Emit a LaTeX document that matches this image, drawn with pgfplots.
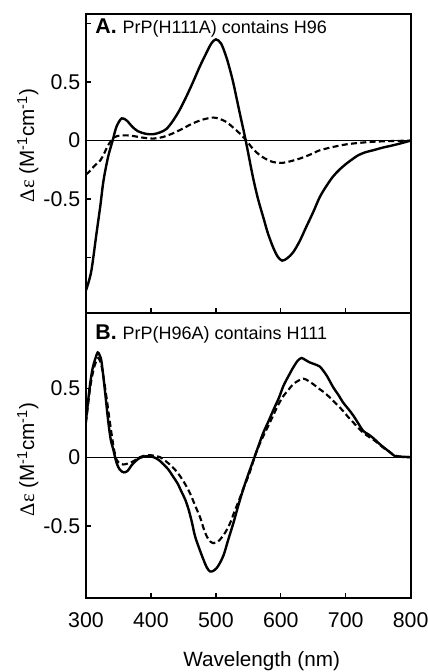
\documentclass[border=0pt]{standalone}
\usepackage{fontspec}
\setmainfont{Liberation Sans}
\newfontfamily\symfont{Liberation Serif}
\usepackage{pgfplots}
\pgfplotsset{compat=1.18}
\pgfplotsset{
  cdstyle/.style={
    scale only axis, width=243.5pt,
    xmin=300, xmax=800,
    axis line style={line width=1.4pt},
    tick style={line width=1pt, black},
    major tick length=4pt,
    tick pos=left,
    tick align=inside,
    /pgf/number format/assume math mode=true,
    ticklabel style={font=\fontsize{16}{19}\selectfont},
    yticklabel style={xshift=-0.8pt},
    xticklabel style={yshift=-7.5pt},
    every axis y label/.style={rotate=90, anchor=center, font=\fontsize{15.5}{18}\selectfont},
    clip=true,
  },
  solidcurve/.style={black, line width=1.8pt, smooth, tension=0.5},
  dashcurve/.style={black, line width=1.6pt, smooth, tension=0.5, dash pattern=on 4.5pt off 2.5pt},
}
\begin{document}
\begin{tikzpicture}
\useasboundingbox (0,0) rectangle (321pt,504pt);
% ---------------- Panel A ----------------
\begin{axis}[cdstyle,
  at={(64.5pt,269.2pt)}, anchor=south west, height=224.3pt,
  ymin=-1.474, ymax=1.082,
  xtick={300,400,500,600,700,800}, xticklabels={},
  ytick={-1,-0.5,0,0.5,1}, yticklabels={,-0.5,0,0.5,},
  ylabel={{\symfont Δε} (M\textsuperscript{-1}cm\textsuperscript{-1})},
  every axis y label/.append style={at={(rel axis cs:-0.179,0.56)}},
]
\addplot[black, line width=0.8pt] coordinates {(300,0) (800,0)};
\addplot[solidcurve] coordinates {
(300,-1.28) (308,-1.12) (316,-0.80) (322,-0.56) (327,-0.34) (334,-0.14) (341,0.0)
(347,0.12) (355,0.19) (363,0.17) (371,0.12) (380,0.08) (392,0.058) (403,0.054)
(414,0.07) (424,0.10) (434,0.17) (444,0.26) (454,0.37) (464,0.49) (475,0.63)
(485,0.745) (493,0.83) (500,0.865) (508,0.83) (516,0.716) (522,0.60) (527,0.49)
(532,0.36) (537,0.23) (546,0.0) (557,-0.31) (565,-0.50) (573,-0.655) (580,-0.79)
(588,-0.91) (595,-0.99) (602,-1.026) (610,-1.005) (619,-0.955) (629,-0.86)
(639,-0.74) (650,-0.61) (660,-0.483) (670,-0.39) (680,-0.31) (690,-0.25)
(701,-0.197) (710,-0.16) (719,-0.126) (730,-0.10) (742,-0.083) (757,-0.06)
(773,-0.04) (787,-0.02) (800,0.0)
};
\addplot[dashcurve] coordinates {
(300,-0.29) (306,-0.26) (314,-0.21) (322,-0.17) (328,-0.11) (334,-0.04)
(344,0.03) (353,0.042) (362,0.045) (372,0.04) (382,0.03) (392,0.022) (403,0.017)
(418,0.03) (433,0.06) (448,0.10) (464,0.146) (480,0.18) (496,0.197) (506,0.185)
(516,0.16) (527,0.11) (537,0.06) (547,0.0) (557,-0.07) (568,-0.126) (578,-0.16)
(588,-0.183) (603,-0.19) (616,-0.175) (629,-0.154) (645,-0.12) (660,-0.083)
(680,-0.055) (701,-0.032) (720,-0.02) (742,-0.01) (770,-0.004) (800,0.0)
};
\node[anchor=north west, inner sep=0pt] at (rel axis cs:0.028,0.986)
  {\fontsize{16}{18}\selectfont\bfseries A.\ \fontsize{13.5}{15}\selectfont\mdseries PrP(H111A) contains H96};
\end{axis}
% ---------------- Panel B ----------------
\begin{axis}[cdstyle,
  at={(64.5pt,55.3pt)}, anchor=south west, height=213.9pt,
  ymin=-1.024, ymax=1.046,
  xtick={300,400,500,600,700,800},
  xticklabels={300,400,500,600,700,800},
  ytick={-0.5,0,0.5}, yticklabels={-0.5,0,0.5},
  ylabel={{\symfont Δε} (M\textsuperscript{-1}cm\textsuperscript{-1})},
  every axis y label/.append style={at={(rel axis cs:-0.179,0.487)}},
  xlabel={Wavelength (nm)},
  every axis x label/.style={at={(rel axis cs:0.541,-0.2406)}, anchor=base, font=\fontsize{15.5}{18}\selectfont},
]
\addplot[black, line width=0.8pt] coordinates {(300,0) (800,0)};
\addplot[solidcurve] coordinates {
(300,0.27) (306,0.52) (310,0.64) (314,0.71) (318,0.76) (321,0.74) (324,0.69)
(329,0.49) (334,0.27) (338,0.13) (342,0.056) (347,-0.04) (352,-0.09) (358,-0.11)
(364,-0.10) (370,-0.06) (376,-0.03) (383,-0.005) (393,0.007) (404,0.0) (412,-0.02)
(419,-0.05) (427,-0.09) (434,-0.14) (441,-0.19) (447,-0.25) (453,-0.31) (458,-0.38)
(463,-0.47) (468,-0.575) (475,-0.67) (481,-0.745) (486,-0.80) (491,-0.83)
(496,-0.825) (501,-0.806) (506,-0.77) (512,-0.71) (519,-0.60) (527,-0.478)
(534,-0.36) (542,-0.235) (551,-0.11) (560,0.007) (567,0.10) (573,0.177)
(581,0.26) (589,0.347) (597,0.43) (604,0.517) (612,0.59) (619,0.65) (626,0.70)
(632,0.72) (638,0.705) (645,0.687) (652,0.675) (660,0.658) (665,0.63) (671,0.59)
(681,0.505) (689,0.45) (696,0.396) (704,0.35) (712,0.30) (720,0.24) (727,0.19)
(735,0.165) (742,0.14) (750,0.105) (758,0.073) (767,0.04) (776,0.007) (785,0.003) (800,0.0)
};
\addplot[dashcurve] coordinates {
(300,0.25) (306,0.49) (310,0.60) (314,0.675) (319,0.72) (324,0.66) (328,0.55)
(332,0.42) (336,0.28) (340,0.15) (343,0.06) (347,-0.017) (352,-0.045) (357,-0.053)
(363,-0.048) (370,-0.036) (377,-0.018) (383,0.0) (391,0.012) (399,0.015) (406,0.01)
(414,0.0) (421,-0.022) (429,-0.053) (437,-0.09) (445,-0.138) (452,-0.19) (460,-0.26)
(468,-0.35) (476,-0.44) (481,-0.515) (486,-0.575) (491,-0.61) (496,-0.624)
(501,-0.618) (506,-0.60) (514,-0.55) (522,-0.478) (529,-0.39) (537,-0.296)
(543,-0.22) (550,-0.138) (555,-0.07) (560,0.007) (566,0.08) (573,0.153) (581,0.23)
(589,0.31) (596,0.38) (604,0.444) (612,0.49) (619,0.53) (627,0.555) (635,0.57)
(642,0.555) (650,0.53) (658,0.50) (666,0.473) (674,0.44) (681,0.408) (689,0.37)
(696,0.335) (704,0.29) (712,0.25) (720,0.21) (727,0.177) (735,0.15) (742,0.129)
(750,0.10) (758,0.068) (767,0.04) (776,0.012) (785,0.005) (800,0.0)
};
\node[anchor=north west, inner sep=0pt] at (rel axis cs:0.028,0.961)
  {\fontsize{16}{18}\selectfont\bfseries B.\ \fontsize{13.5}{15}\selectfont\mdseries PrP(H96A) contains H111};
\end{axis}
\end{tikzpicture}
\end{document}
